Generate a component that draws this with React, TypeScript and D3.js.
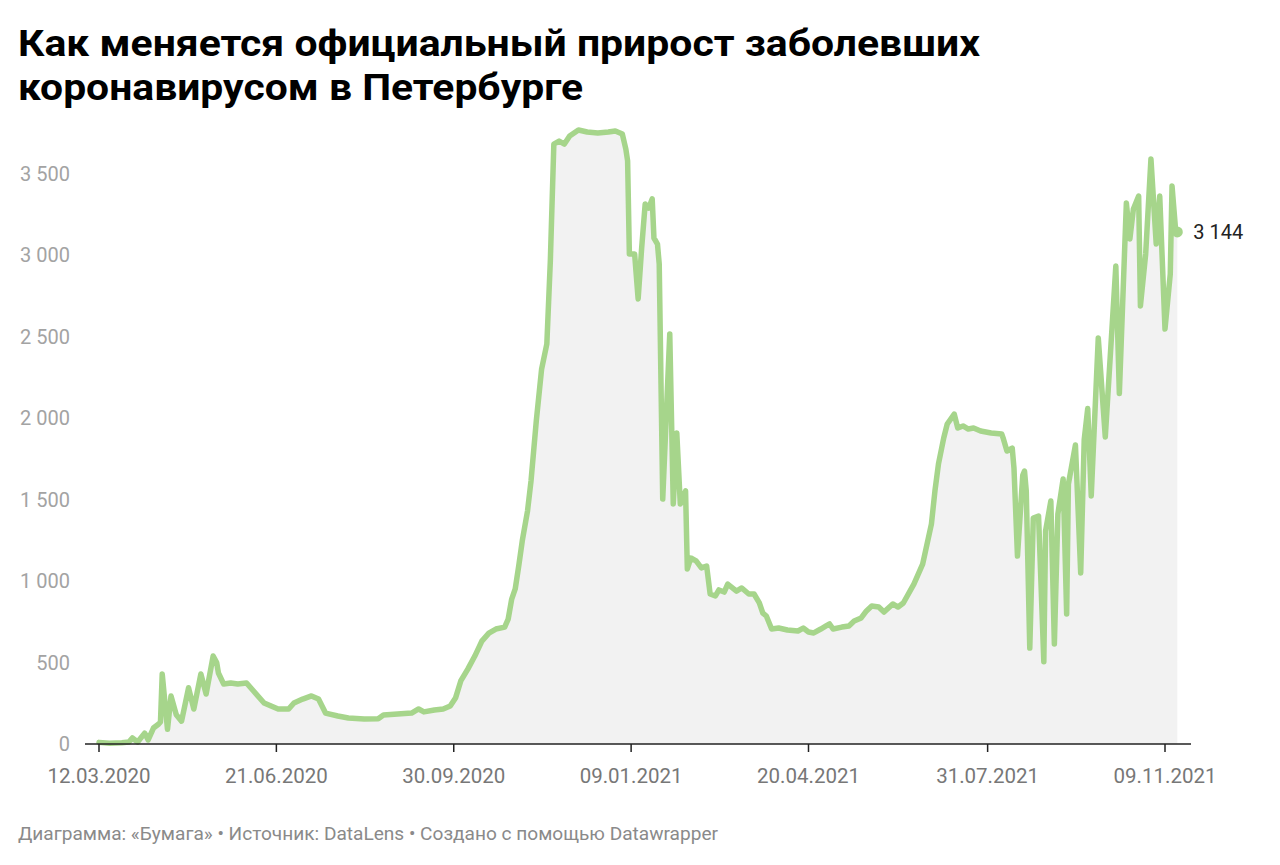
import React from "react";
import * as d3 from "d3";

const dates: string[] = [
  "2020-03-12","2020-03-18","2020-03-25","2020-03-29","2020-03-31","2020-04-03","2020-04-07","2020-04-09","2020-04-12","2020-04-15",
  "2020-04-16","2020-04-17","2020-04-20","2020-04-22","2020-04-25","2020-04-28","2020-05-02","2020-05-05","2020-05-09","2020-05-12",
  "2020-05-16","2020-05-18","2020-05-19","2020-05-22","2020-05-26","2020-05-30","2020-06-04","2020-06-08","2020-06-14","2020-06-18",
  "2020-06-22","2020-06-28","2020-07-01","2020-07-06","2020-07-11","2020-07-15","2020-07-19","2020-07-26","2020-08-01","2020-08-10",
  "2020-08-18","2020-08-21","2020-08-29","2020-09-06","2020-09-10","2020-09-13","2020-09-19","2020-09-24","2020-09-28","2020-10-01",
  "2020-10-04","2020-10-08","2020-10-12","2020-10-16","2020-10-20","2020-10-24","2020-10-29","2020-10-31","2020-11-02","2020-11-04",
  "2020-11-06","2020-11-08","2020-11-11","2020-11-13","2020-11-16","2020-11-19","2020-11-22","2020-11-24","2020-11-26","2020-11-29",
  "2020-12-02","2020-12-05","2020-12-10","2020-12-15","2020-12-21","2020-12-27","2020-12-31","2021-01-04","2021-01-06","2021-01-07",
  "2021-01-08","2021-01-11","2021-01-13","2021-01-15","2021-01-17","2021-01-19","2021-01-21","2021-01-22","2021-01-24","2021-01-25",
  "2021-01-27","2021-01-31","2021-02-02","2021-02-04","2021-02-06","2021-02-09","2021-02-10","2021-02-12","2021-02-15","2021-02-18",
  "2021-02-21","2021-02-23","2021-02-26","2021-02-28","2021-03-03","2021-03-05","2021-03-10","2021-03-13","2021-03-17","2021-03-20",
  "2021-03-23","2021-03-25","2021-03-27","2021-03-30","2021-04-03","2021-04-08","2021-04-14","2021-04-17","2021-04-20","2021-04-23",
  "2021-04-27","2021-04-30","2021-05-02","2021-05-04","2021-05-09","2021-05-13","2021-05-16","2021-05-20","2021-05-23","2021-05-26",
  "2021-05-30","2021-06-02","2021-06-07","2021-06-10","2021-06-13","2021-06-19","2021-06-24","2021-06-29","2021-07-01","2021-07-03",
  "2021-07-06","2021-07-08","2021-07-12","2021-07-14","2021-07-17","2021-07-20","2021-07-23","2021-07-27","2021-08-02","2021-08-08",
  "2021-08-09","2021-08-11","2021-08-14","2021-08-15","2021-08-17","2021-08-20","2021-08-21","2021-08-22","2021-08-24","2021-08-26",
  "2021-08-29","2021-09-01","2021-09-02","2021-09-05","2021-09-07","2021-09-09","2021-09-12","2021-09-14","2021-09-15","2021-09-19",
  "2021-09-22","2021-09-24","2021-09-26","2021-09-28","2021-10-02","2021-10-06","2021-10-12","2021-10-14","2021-10-18","2021-10-20",
  "2021-10-22","2021-10-25","2021-10-26","2021-10-29","2021-11-01","2021-11-04","2021-11-06","2021-11-09","2021-11-12","2021-11-13",
  "2021-11-15","2021-11-16"
];

const cases: number[] = [
  10,5,8,12,37,12,67,25,98,123,
  135,430,90,295,180,140,345,215,430,307,
  540,500,436,368,375,368,375,325,252,233,
  215,215,252,276,295,276,190,172,160,153,
  155,178,184,190,215,197,209,215,233,282,
  387,460,540,632,681,706,718,767,890,952,
  1093,1246,1430,1615,1983,2300,2456,2966,3684,3702,
  3684,3733,3770,3758,3752,3758,3764,3745,3653,3580,
  3009,3009,2733,3046,3316,3290,3347,3107,3070,2947,
  1504,2518,1474,1910,1474,1554,1075,1142,1124,1081,
  1093,921,909,946,933,982,939,958,921,921,
  866,804,786,706,712,700,694,712,688,682,
  706,725,737,706,718,725,755,774,817,847,
  841,810,860,841,866,982,1105,1351,1554,1719,
  1879,1965,2026,1940,1953,1934,1940,1922,1910,1904,
  1873,1799,1817,1695,1154,1650,1676,1554,589,1388,
  1400,505,1308,1492,614,1412,1627,798,1596,1836,
  1050,1870,2060,1523,2493,1885,2935,2152,3322,3101,
  3285,3365,2689,3009,3592,3070,3365,2548,2886,3426,
  3162,3144
];

const yTicks: number[] = [0, 500, 1000, 1500, 2000, 2500, 3000, 3500];
const xTickLabels: string[] = ["12.03.2020", "21.06.2020", "30.09.2020", "09.01.2021", "20.04.2021", "31.07.2021", "09.11.2021"];

const titleLines: string[] = [
  "Как меняется официальный прирост заболевших",
  "коронавирусом в Петербурге",
];
const footer = "Диаграмма: «Бумага» • Источник: DataLens • Создано с помощью Datawrapper";

const W = 1280;
const H = 865;
const LINE = "#a6d58b";
const FONT = "Roboto, 'Noto Sans', sans-serif";

export default function App() {
  const parse = d3.timeParse("%Y-%m-%d");
  const parseTick = d3.timeParse("%d.%m.%Y");
  const data = dates.map((d, i) => ({ date: parse(d) as Date, value: cases[i] }));
  const tickDates = xTickLabels.map((t) => parseTick(t) as Date);

  const x = d3
    .scaleTime()
    .domain([tickDates[0], tickDates[tickDates.length - 1]])
    .range([99, 1165]);
  const y = d3.scaleLinear().domain([0, 3500]).range([744, 174]);

  const line = d3
    .line<{ date: Date; value: number }>()
    .x((d) => x(d.date))
    .y((d) => y(d.value));
  const area = d3
    .area<{ date: Date; value: number }>()
    .x((d) => x(d.date))
    .y0(y(0))
    .y1((d) => y(d.value));

  const last = data[data.length - 1];
  const fmt = (v: number) => d3.format(",")(v).replace(/,/g, " ");

  return (
    <svg width={W} height={H} style={{ display: "block", position: "absolute", left: 0, top: 0 }} fontFamily={FONT}>
      <rect width={W} height={H} fill="#ffffff" />
      <text x={18} y={56} fontSize={37} fontWeight={700} fill="#000" textLength={962} lengthAdjust="spacingAndGlyphs">
        {titleLines[0]}
      </text>
      <text x={18} y={100} fontSize={37} fontWeight={700} fill="#000" textLength={565} lengthAdjust="spacingAndGlyphs">
        {titleLines[1]}
      </text>

      {yTicks.map((t) => (
        <text key={t} x={70} y={y(t)} dy="0.35em" textAnchor="end" fontSize={20} fill="#a3a3a3">
          {fmt(t)}
        </text>
      ))}

      <path d={area(data) || ""} fill="#f2f2f2" />
      <path d={line(data) || ""} fill="none" stroke={LINE} strokeWidth={5.5} strokeLinejoin="round" strokeLinecap="round" />
      <circle cx={x(last.date)} cy={y(last.value)} r={5.5} fill={LINE} />
      <text x={x(last.date) + 16} y={y(last.value)} dy="0.35em" fontSize={20} fill="#222">
        {fmt(last.value)}
      </text>

      <line x1={85} x2={1191} y1={y(0)} y2={y(0)} stroke="#222" strokeWidth={1.5} />
      {tickDates.map((d, i) => (
        <g key={i}>
          <line x1={x(d)} x2={x(d)} y1={y(0)} y2={y(0) + 8} stroke="#222" strokeWidth={1.5} />
          <text x={x(d)} y={783} textAnchor="middle" fontSize={20.5} fill="#777">
            {xTickLabels[i]}
          </text>
        </g>
      ))}

      <text x={18} y={840} fontSize={18} fill="#8a8a8a" textLength={700} lengthAdjust="spacingAndGlyphs">
        {footer}
      </text>
    </svg>
  );
}
